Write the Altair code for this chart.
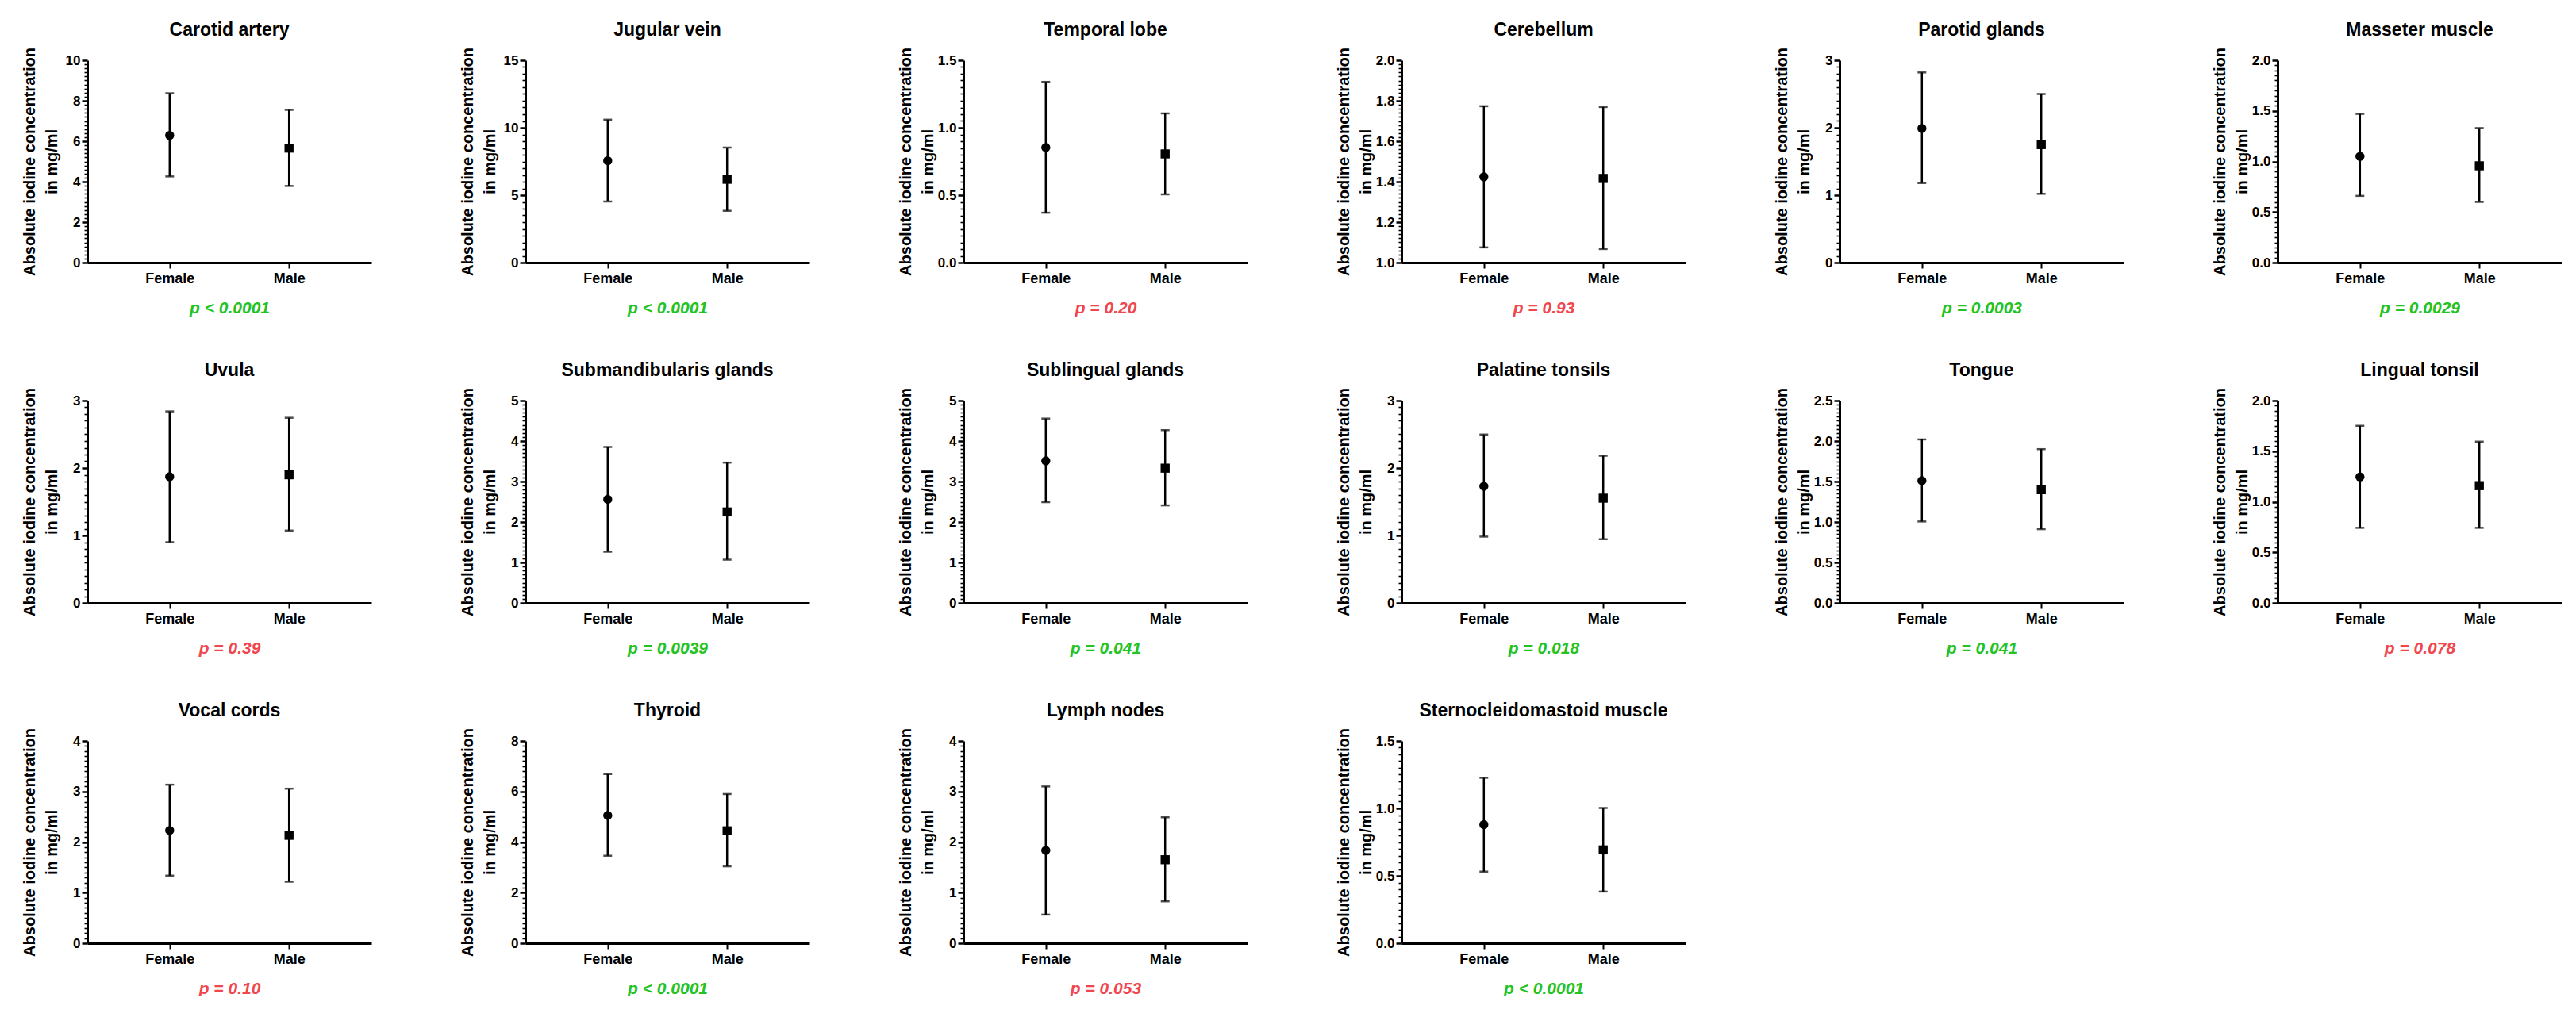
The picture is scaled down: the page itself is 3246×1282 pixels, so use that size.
import altair as alt
import pandas as pd

FONT = "Liberation Sans"

organs = ["Carotid artery", "Jugular vein", "Temporal lobe", "Cerebellum", "Parotid glands", "Masseter muscle",
          "Uvula", "Submandibularis glands", "Sublingual glands", "Palatine tonsils", "Tongue", "Lingual tonsil",
          "Vocal cords", "Thyroid", "Lymph nodes", "Sternocleidomastoid muscle"]
sexes = ["Female", "Male"]

y_min = [0, 0, 0, 1.0, 0, 0, 0, 0, 0, 0, 0, 0, 0, 0, 0, 0]
y_max = [10, 15, 1.5, 2.0, 3, 2.0, 3, 5, 5, 3, 2.5, 2.0, 4, 8, 4, 1.5]
y_step = [2, 5, 0.5, 0.2, 1, 0.5, 1, 1, 1, 1, 0.5, 0.5, 1, 2, 1, 0.5]

female_mean = [6.29, 7.55, 0.853, 1.424, 1.99, 1.05, 1.87, 2.56, 3.51, 1.73, 1.51, 1.245, 2.23, 5.05, 1.835, 0.879]
female_lower = [4.26, 4.53, 0.37, 1.075, 1.18, 0.66, 0.90, 1.265, 2.49, 0.983, 1.006, 0.742, 1.337, 3.46, 0.566, 0.531]
female_upper = [8.37, 10.6, 1.34, 1.773, 2.82, 1.47, 2.84, 3.853, 4.555, 2.497, 2.02, 1.751, 3.135, 6.69, 3.10, 1.227]
male_mean = [5.66, 6.18, 0.806, 1.416, 1.75, 0.957, 1.90, 2.248, 3.33, 1.553, 1.399, 1.159, 2.134, 4.445, 1.651, 0.692]
male_lower = [3.79, 3.84, 0.506, 1.067, 1.02, 0.60, 1.073, 1.068, 2.41, 0.944, 0.911, 0.742, 1.216, 3.04, 0.828, 0.383]
male_upper = [7.55, 8.53, 1.106, 1.769, 2.5, 1.33, 2.745, 3.467, 4.27, 2.182, 1.90, 1.594, 3.056, 5.90, 2.49, 1.003]

p_labels = ["p < 0.0001", "p < 0.0001", "p = 0.20", "p = 0.93", "p = 0.0003", "p = 0.0029",
            "p = 0.39", "p = 0.0039", "p = 0.041", "p = 0.018", "p = 0.041", "p = 0.078",
            "p = 0.10", "p < 0.0001", "p = 0.053", "p < 0.0001"]
p_significant = [True, True, False, False, True, True, False, True, True, True, True, False,
                 False, True, False, True]

GREEN = "#22c322"
RED = "#f0474e"

W, H = 358, 255


def panel(i):
    df = pd.DataFrame({
        "sex": sexes,
        "mean": [female_mean[i], male_mean[i]],
        "lower": [female_lower[i], male_lower[i]],
        "upper": [female_upper[i], male_upper[i]],
    })
    lo, hi, step = y_min[i], y_max[i], y_step[i]
    n_major = int(round((hi - lo) / step))
    majors = [round(lo + k * step, 6) for k in range(n_major + 1)]
    minors = [round(lo + k * step / 10, 6) for k in range(n_major * 10 + 1)]
    fmt = "d" if float(step).is_integer() and float(lo).is_integer() else ".1f"
    major_js = "[" + ",".join(repr(float(v)) for v in majors) + "]"
    is_major = f"indexof({major_js}, datum.value) >= 0"

    yscale = alt.Scale(domain=[lo, hi], nice=False, zero=False)
    yaxis = alt.Axis(
        title=["Absolute iodine concentration", "in mg/ml"],
        values=minors,
        labelExpr=f"{is_major} ? format(datum.value, '{fmt}') : ''",
        tickSize={"condition": {"test": is_major, "value": 7}, "value": 4},
        tickWidth={"condition": {"test": is_major, "value": 2.5}, "value": 1.6},
        grid=False,
        minExtent=30, maxExtent=30,
        titlePadding=5,
        labelPadding=2,
    )
    xscale = alt.Scale(type="point", padding=0.69, domain=sexes)
    xaxis = alt.Axis(
        title=p_labels[i],
        titleColor=GREEN if p_significant[i] else RED,
        labelAngle=0,
    )
    x = alt.X("sex:N", scale=xscale, axis=xaxis, sort=sexes)

    base = alt.Chart(df)
    bars = base.mark_rule(color="black", strokeWidth=2.5).encode(
        x=x, y=alt.Y("lower:Q", scale=yscale, axis=yaxis), y2="upper:Q")
    caps = base.transform_fold(["lower", "upper"], as_=["bound", "val"]).mark_tick(
        color="black", thickness=2.5, size=11, orient="horizontal").encode(
        x=x, y=alt.Y("val:Q", scale=yscale, axis=yaxis))
    pts = base.mark_point(filled=True, color="black", size=130, opacity=1).encode(
        x=x, y=alt.Y("mean:Q", scale=yscale, axis=yaxis),
        shape=alt.Shape("sex:N", scale=alt.Scale(domain=sexes, range=["circle", "square"]), legend=None))
    return alt.layer(bars, caps, pts).properties(
        width=W, height=H,
        title=alt.TitleParams(organs[i], fontSize=23, font=FONT, fontWeight="bold",
                              frame="group", anchor="middle", offset=10, color="black"),
    )


rows = [
    alt.hconcat(*[panel(i) for i in range(0, 6)], spacing=110),
    alt.hconcat(*[panel(i) for i in range(6, 12)], spacing=110),
    alt.hconcat(*[panel(i) for i in range(12, 16)], spacing=110),
]

chart = alt.vconcat(*rows, spacing=57).properties(
    padding={"left": 18, "top": 18, "right": 0, "bottom": 0}
).configure_view(strokeWidth=0).configure_axis(
    domainColor="black", domainWidth=3, tickColor="black",
    labelFont=FONT, labelFontSize=17, labelFontWeight="bold", labelColor="black",
    titleFont=FONT, titleFontSize=20, titleFontWeight="bold", titleColor="black",
    titleLineHeight=28,
).configure_axisX(
    tickSize=7, tickWidth=2, labelFontSize=18, labelPadding=4,
    titleFontSize=21, titleFontStyle="italic", titlePadding=17,
)

chart.save("out.html", embed_options={"renderer": "svg", "actions": False})
